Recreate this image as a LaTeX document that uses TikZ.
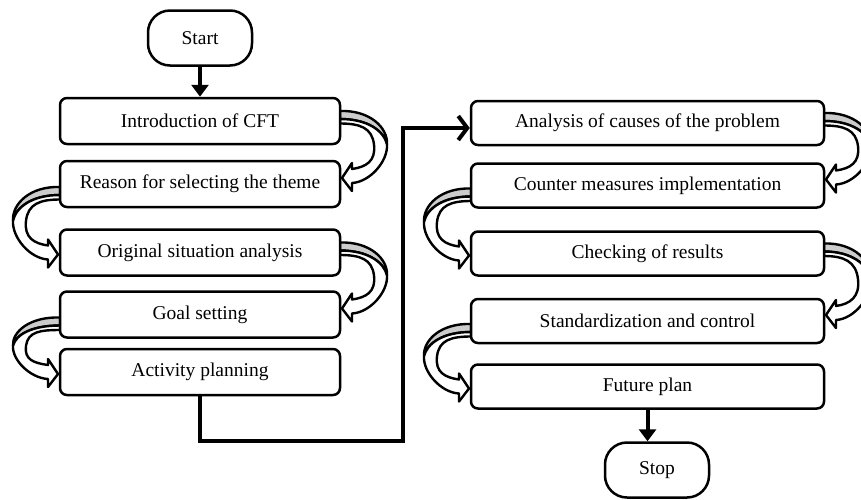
\documentclass[tikz,border=0pt]{standalone}
\usepackage{fontspec}
\setmainfont{Liberation Serif}
\usetikzlibrary{positioning,calc,arrows.meta}

\tikzset{
  stepbox/.style={draw, fill=white, line width=2.5pt, rounded corners=7pt, inner sep=0pt,
    minimum height=46pt, font=\fontsize{19.5}{23}\selectfont},
  leftbox/.style={stepbox, minimum width=280pt},
  rightbox/.style={stepbox, minimum width=353pt, minimum height=44pt},
  terminal/.style={draw, fill=white, line width=2.5pt, rounded corners=22pt, inner sep=0pt,
    minimum width=104pt, minimum height=55pt, font=\fontsize{19.5}{23}\selectfont},
  flowline/.style={line width=4pt},
  ribbonback/.style={draw, fill=gray!40, line width=2.4pt, line join=round},
  ribbonfront/.style={draw, fill=white, line width=2.4pt, line join=round},
}

% curved block arrow: #1 side (1 right, -1 left), #2 start of band, #3 tip
\newcommand{\ribbon}[3]{%
  \coordinate (rs) at #2;
  \coordinate (rtip) at #3;
  \coordinate (rt) at (rs |- rtip);
  \filldraw[ribbonback] (rs) .. controls ($(rs)+({3*#1},-0.1)$) and ($(rs)!0.25!(rt)+({4.8*#1},0)$)
    .. ($(rs)!0.5!(rt)+({4.7*#1},0)$) .. controls ($(rs)!0.3!(rt)+({4.4*#1},0)$) and ($(rs)+({2.8*#1},0.8)$)
    .. ($(rs)+(0,0.8)$) -- cycle;
  \filldraw[ribbonfront] ($(rs)+(0,0.8)$) .. controls ($(rs)+({2.8*#1},0.8)$) and ($(rs)!0.3!(rt)+({4.4*#1},0)$)
    .. ($(rs)!0.5!(rt)+({4.7*#1},0)$) .. controls ($(rs)!0.75!(rt)+({4.8*#1},0)$) and ($(rt)+({3*#1},0.4)$)
    .. ($(rt)+({1.2*#1},0.5)$) -- ($(rt)+({1.2*#1},1.3)$) -- ($(rt)+({0.2*#1},0)$)
    -- ($(rt)+({1.2*#1},-1.5)$) -- ($(rt)+({1.2*#1},-0.9)$)
    .. controls ($(rt)+({2.6*#1},-1.1)$) and ($(rs)!0.75!(rt)+({3.6*#1},0)$)
    .. ($(rs)!0.5!(rt)+({3.4*#1},0)$) .. controls ($(rs)!0.25!(rt)+({3.2*#1},0)$) and ($(rs)+({2*#1},1.25)$)
    .. ($(rs)+(0,1.25)$) -- cycle;
}

\begin{document}
\begin{tikzpicture}[x=10pt, y=-10pt]
	\useasboundingbox (0,0) rectangle (86.1,49.9);

	% Curved arrows (behind the boxes):
	\path (20,12.1) coordinate (c1) (20,18.4) coordinate (c2) (20,25.25) coordinate (c3)
		(20,31.45) coordinate (c4) (20,37.2) coordinate (c5);
	\path (64.75,12.3) coordinate (d1) (64.75,18.55) coordinate (d2) (64.75,25.35) coordinate (d3)
		(64.75,32.1) coordinate (d4) (64.75,38.65) coordinate (d5);
	\ribbon{1}{($(c1)+(14,-1)$)}{($(c2)+(14,-0.6)$)}
	\ribbon{-1}{($(c2)+(-14,0.3)$)}{($(c3)+(-14,0.2)$)}
	\ribbon{1}{($(c3)+(14,-1)$)}{($(c4)+(14,-0.6)$)}
	\ribbon{-1}{($(c4)+(-14,0.3)$)}{($(c5)+(-14,0.2)$)}
	\ribbon{1}{($(d1)+(17.65,-1)$)}{($(d2)+(17.65,-0.6)$)}
	\ribbon{-1}{($(d2)+(-17.65,0.3)$)}{($(d3)+(-17.65,0.2)$)}
	\ribbon{1}{($(d3)+(17.65,-1)$)}{($(d4)+(17.65,-0.6)$)}
	\ribbon{-1}{($(d4)+(-17.65,0.3)$)}{($(d5)+(-17.65,0.2)$)}

	% Boxes:
	\node[terminal] (start) at (20,3.8) {Start};
	\node[leftbox] (intro) at (c1) {Introduction of CFT};
	\node[leftbox] (reason) at (c2) {Reason for selecting the theme};
	\node[leftbox] (original) at (c3) {Original situation analysis};
	\node[leftbox] (goal) at (c4) {Goal setting};
	\node[leftbox] (activity) at (c5) {Activity planning};

	\node[rightbox] (analysis) at (d1) {Analysis of causes of the problem};
	\node[rightbox] (counter) at (d2) {Counter measures implementation};
	\node[rightbox] (checking) at (d3) {Checking of results};
	\node[rightbox] (standard) at (d4) {Standardization and control};
	\node[rightbox] (future) at (d5) {Future plan};
	\node[terminal] (stop) at (65.7,47.0) {Stop};

	% Lines:
	\draw[flowline, -{Triangle[length=12pt,width=17pt]}] (start) -- (intro);
	\coordinate (turn) at (40.3,44.1);
	\draw[flowline, -{Straight Barb[length=9pt,width=24pt]}]
		(activity.south) |- (turn) |- ([yshift=-5pt]analysis.west);
	\draw[flowline, -{Triangle[length=12pt,width=17pt]}] (future.south) -- (future.south |- stop.north);

\end{tikzpicture}
\end{document}
